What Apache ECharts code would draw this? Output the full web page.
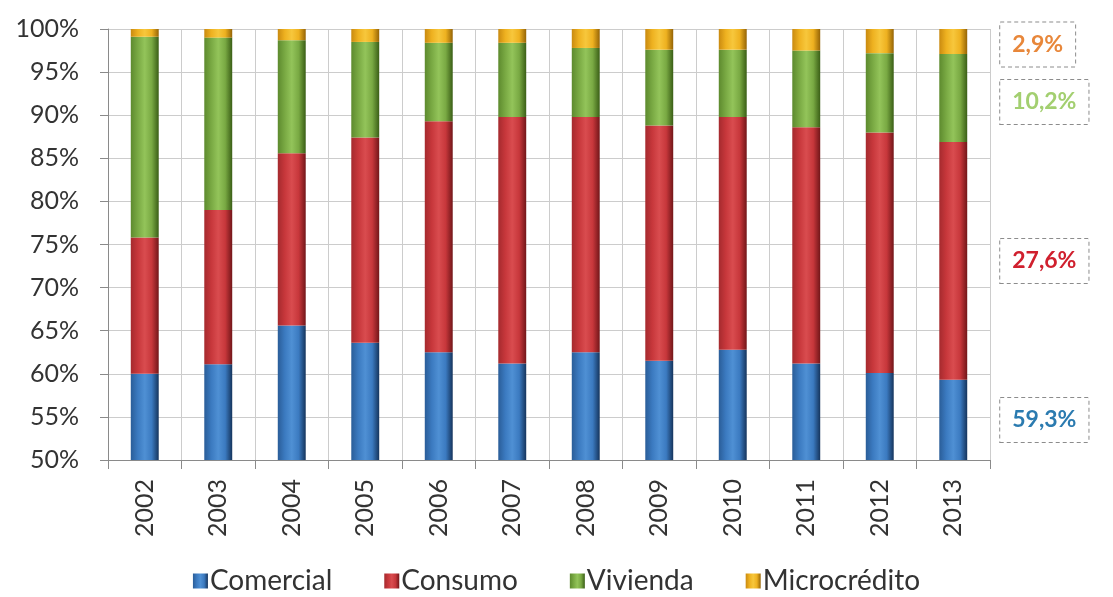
<!DOCTYPE html>
<html>
<head>
<meta charset="utf-8">
<title>Cartera por tipo de crédito 2002-2013</title>
<script src="https://cdn.jsdelivr.net/npm/echarts@6/dist/echarts.min.js"></script>
<style>
  html, body { margin: 0; padding: 0; background: #ffffff; }
  #chart { width: 1113px; height: 597px; }
</style>
</head>
<body>
<div id="chart"></div>
<script>
// Composition of the loan portfolio by credit type (% of total)
const years = ['2002', '2003', '2004', '2005', '2006', '2007', '2008', '2009', '2010', '2011', '2012', '2013'];
const comercial    = [60.0, 61.1, 65.6, 63.6, 62.5, 61.2, 62.5, 61.5, 62.8, 61.2, 60.1, 59.3];
const consumo      = [15.8, 17.9, 20.0, 23.8, 26.8, 28.6, 27.3, 27.3, 27.0, 27.4, 27.9, 27.6];
const vivienda     = [23.3, 20.0, 13.1, 11.1,  9.1,  8.6,  8.0,  8.8,  7.8,  8.9,  9.2, 10.2];
const microcredito = [ 0.9,  1.0,  1.3,  1.5,  1.6,  1.6,  2.2,  2.4,  2.4,  2.5,  2.8,  2.9];
const yTicks = { min: 50, max: 100, step: 5 };

const FONT = 'Lato, "Noto Sans", sans-serif';

// cylinder-like horizontal shading for each series
function shade(edgeL, mid, light, edgeR) {
  return new echarts.graphic.LinearGradient(0, 0, 1, 0, [
    { offset: 0, color: edgeL },
    { offset: 0.25, color: mid },
    { offset: 0.5, color: light },
    { offset: 0.75, color: mid },
    { offset: 1, color: edgeR }
  ]);
}

const styles = [
  { name: 'Comercial',    data: comercial,    fill: shade('#2a5d98', '#3b7ac0', '#4f90d4', '#15345c'), text: '#2b7bb0', shift: 0 },
  { name: 'Consumo',      data: consumo,      fill: shade('#a52a2e', '#c7373b', '#d94c4f', '#721619'), text: '#d0202e', shift: 0 },
  { name: 'Vivienda',     data: vivienda,     fill: shade('#5d8a2e', '#79a943', '#93c45a', '#3a5e16'), text: '#a3cf70', shift: 4 },
  { name: 'Microcrédito', data: microcredito, fill: shade('#c98a10', '#eeb120', '#f7c73c', '#956406'), text: '#e8873a', shift: 3 }
];

function pct(v) {
  return v.toFixed(1).replace('.', ',') + '%';
}

const last = years.length - 1;

const series = styles.map(s => ({
  name: s.name,
  type: 'bar',
  stack: 'total',
  clip: true,
  barWidth: '38%',
  itemStyle: { color: s.fill },
  data: s.data.map((v, i) => {
    if (i !== last) return v;
    // value callout to the right of the latest bar
    return {
      value: v,
      label: {
        show: true,
        position: 'right',
        distance: 33,
        offset: [0, s.shift],
        formatter: p => pct(p.value),
        fontFamily: FONT,
        fontWeight: 'bold',
        fontSize: 23,
        color: s.text,
        backgroundColor: '#ffffff',
        borderColor: '#8c8c8c',
        borderWidth: 1,
        borderType: [4, 3],
        padding: [11, 12, 10, 12]
      }
    };
  })
}));

const chart = echarts.init(document.getElementById('chart'), null, { renderer: 'canvas' });
chart.setOption({
  animation: false,
  backgroundColor: '#ffffff',
  grid: { left: 108, right: 123, top: 29, bottom: 137, containLabel: false },
  legend: {
    bottom: -3,
    left: 'center',
    itemWidth: 15,
    itemHeight: 15,
    itemGap: 52,
    icon: 'rect',
    textStyle: { fontFamily: FONT, fontSize: 28, color: '#333333', padding: [0, 0, 0, -3] },
    data: styles.map(s => s.name)
  },
  xAxis: {
    type: 'category',
    data: years,
    boundaryGap: true,
    axisLine: { lineStyle: { color: '#8a8a8a', width: 1 } },
    axisTick: { show: true, length: 9, lineStyle: { color: '#8a8a8a' } },
    splitLine: { show: true, lineStyle: { color: '#cccccc', width: 1 } },
    axisLabel: {
      rotate: 90,
      margin: 19,
      fontFamily: FONT,
      fontSize: 25,
      color: '#333333'
    }
  },
  yAxis: {
    type: 'value',
    min: yTicks.min,
    max: yTicks.max,
    interval: yTicks.step,
    axisLine: { show: true, lineStyle: { color: '#8a8a8a', width: 1 } },
    axisTick: { show: true, length: 8, lineStyle: { color: '#8a8a8a' } },
    splitLine: { show: true, lineStyle: { color: '#cccccc', width: 1 } },
    axisLabel: {
      formatter: '{value}%',
      margin: 29,
      fontFamily: FONT,
      fontSize: 25,
      color: '#333333'
    }
  },
  series: series
});
</script>
</body>
</html>
